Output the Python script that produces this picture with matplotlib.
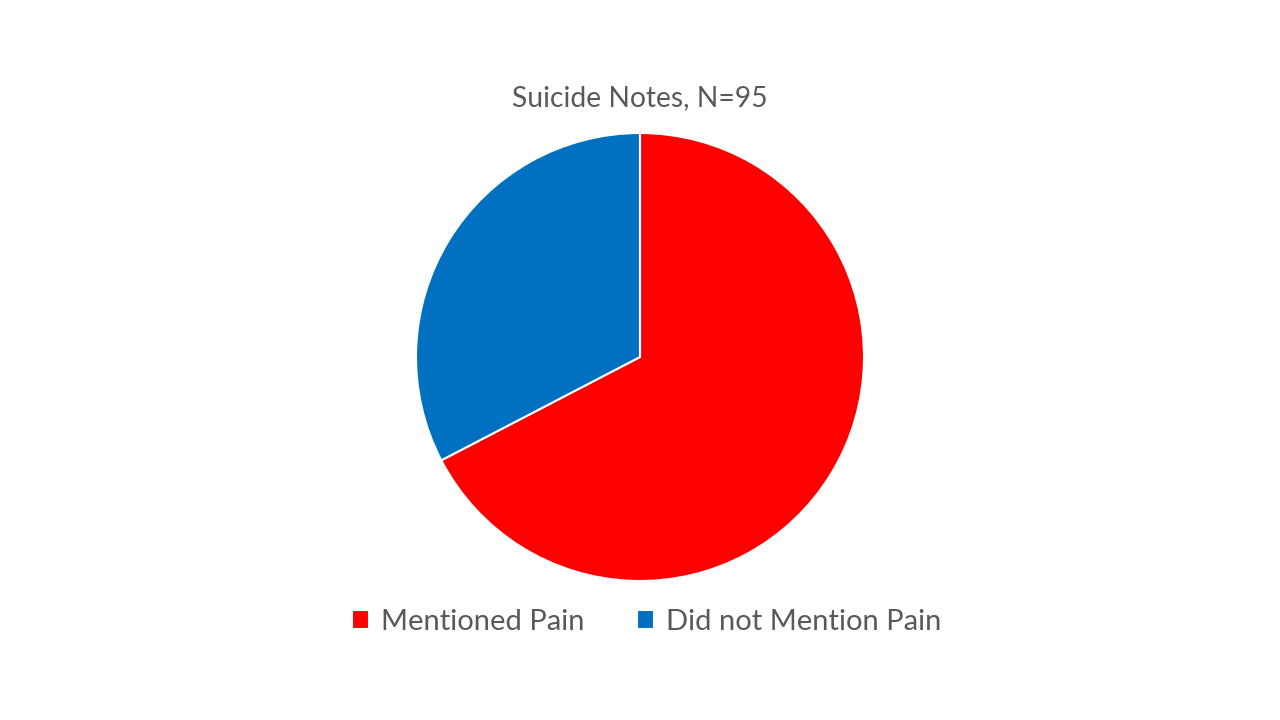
import matplotlib.pyplot as plt

# data
labels = ["Mentioned Pain", "Did not Mention Pain"]
counts = [64, 31]
colors = ["#FF0000", "#0070C0"]
title = "Suicide Notes, N=95"

plt.rcParams["font.family"] = ["Lato", "DejaVu Sans"]

fig = plt.figure(figsize=(12.8, 7.2), dpi=100)
# pie centre ~ (640, 357) px, radius ~ 224 px
ax = fig.add_axes([(640 - 224) / 1280, (720 - 357 - 224) / 720, 448 / 1280, 448 / 720])
wedges, _ = ax.pie(counts, colors=colors, startangle=90, counterclock=False,
                   wedgeprops=dict(edgecolor="white", linewidth=1.5))
ax.set_xlim(-1, 1)
ax.set_ylim(-1, 1)
ax.set_aspect("equal")

fig.text(0.5, 1 - 98 / 720, title, ha="center", va="center",
         fontsize=20.3, color="#595959")

fig.legend(wedges, labels, loc="center", bbox_to_anchor=(0.505, 1 - 622 / 720),
           ncol=2, frameon=False, fontsize=21, labelcolor="#595959",
           handlelength=0.6, handleheight=0.6, handletextpad=0.4,
           columnspacing=1.8)

fig.savefig("out.png", dpi=100, facecolor="white")
